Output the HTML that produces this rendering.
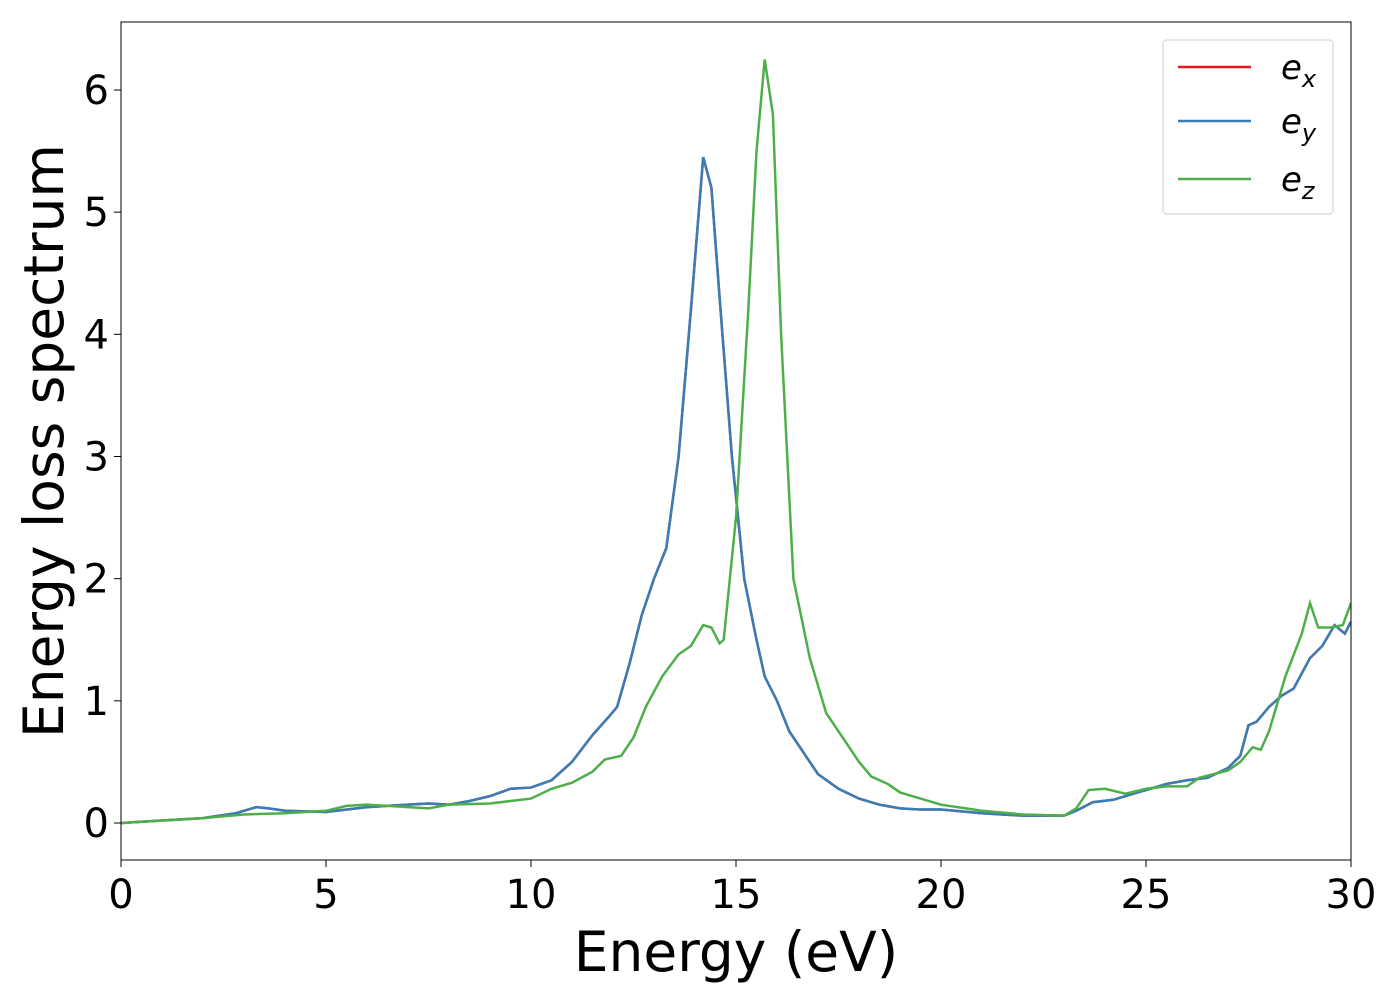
<!DOCTYPE html>
<html><head><meta charset="utf-8"><style>
body{margin:0;background:#fff;}
svg{font-family:"DejaVu Sans","Liberation Sans",sans-serif;}
</style></head><body>
<svg id="chart" width="1400" height="1000" xmlns="http://www.w3.org/2000/svg">
<rect width="1400" height="1000" fill="#fff"/>
<g id="plot"></g>
</svg>
<script>
const xTicks=[0,5,10,15,20,25,30];
const yTicks=[0,1,2,3,4,5,6];
const exX=[0,1,2,2.8,3.3,3.6,4,5,6,7,7.5,8,8.5,9,9.5,10,10.5,11,11.5,11.9,12.1,12.4,12.7,13,13.3,13.6,13.9,14.2,14.4,14.6,14.9,15.2,15.5,15.7,16,16.3,16.7,17,17.5,18,18.5,19,19.5,20,21,22,23,23.3,23.7,24.2,25,25.5,26,26.5,27,27.3,27.5,27.7,28,28.3,28.6,29,29.3,29.6,29.85,30];
const exY=[0,0.02,0.04,0.08,0.13,0.12,0.1,0.09,0.13,0.15,0.16,0.15,0.18,0.22,0.28,0.29,0.35,0.5,0.72,0.87,0.95,1.3,1.7,2.0,2.25,3.0,4.2,5.45,5.2,4.3,3.0,2.0,1.5,1.2,1.0,0.75,0.55,0.4,0.28,0.2,0.15,0.12,0.11,0.11,0.08,0.06,0.06,0.1,0.17,0.19,0.27,0.32,0.35,0.37,0.45,0.55,0.8,0.83,0.95,1.04,1.1,1.35,1.45,1.62,1.55,1.65];
const ezX=[0,2,3,4,5,5.5,6,6.5,7,7.5,8,9,9.5,10,10.5,11,11.5,11.8,12.2,12.5,12.8,13.2,13.6,13.9,14.2,14.4,14.6,14.7,15,15.3,15.5,15.7,15.9,16.1,16.4,16.8,17.2,17.6,18,18.3,18.7,19,19.5,20,21,22,23,23.3,23.6,24,24.5,25,25.5,26,26.3,27,27.3,27.6,27.8,28,28.4,28.8,29,29.2,29.5,29.8,30];
const ezY=[0,0.04,0.07,0.08,0.1,0.14,0.15,0.14,0.13,0.12,0.15,0.16,0.18,0.2,0.28,0.33,0.42,0.52,0.55,0.7,0.95,1.2,1.38,1.45,1.62,1.6,1.47,1.5,2.5,4.2,5.5,6.25,5.8,4.0,2.0,1.35,0.9,0.7,0.5,0.38,0.32,0.25,0.2,0.15,0.1,0.07,0.06,0.12,0.27,0.28,0.24,0.28,0.3,0.3,0.37,0.43,0.5,0.62,0.6,0.75,1.2,1.55,1.8,1.6,1.6,1.62,1.8];
const L=121,R=1351,T=22,B=860;
const sx=v=>L+(v-0)/30*(R-L);
const sy=v=>823-v*(823-90)/6;
const NS='http://www.w3.org/2000/svg';
const g=document.getElementById('plot');
function mk(t,a,txt){const e=document.createElementNS(NS,t);for(const k in a)e.setAttribute(k,a[k]);if(txt!==undefined)e.textContent=txt;g.appendChild(e);return e;}
const cp=mk('clipPath',{id:'cp'});const cr=document.createElementNS(NS,'rect');cr.setAttribute('x',L);cr.setAttribute('y',T);cr.setAttribute('width',R-L);cr.setAttribute('height',B-T);cp.appendChild(cr);
function line(xs,ys,col,name){const p=mk('polyline',{points:xs.map((x,i)=>sx(x)+','+sy(ys[i])).join(' '),fill:'none',stroke:col,'stroke-width':2.5,'clip-path':'url(#cp)'});

}
line(exX,exY,'#e41a1c','series-ex');
line(exX,exY,'#377eb8','series-ey');
line(ezX,ezY,'#4daf4a','series-ez');
const fr=mk('rect',{x:L,y:T,width:R-L,height:B-T,fill:'none',stroke:'#000','stroke-width':1});


xTicks.forEach(v=>{mk('line',{x1:sx(v),x2:sx(v),y1:B,y2:B+7,stroke:'#000'});
const t=mk('text',{x:sx(v),y:B+48,'text-anchor':'middle','font-size':40},String(v));

});
yTicks.forEach(v=>{mk('line',{x1:L-7,x2:L,y1:sy(v),y2:sy(v),stroke:'#000'});
const t=mk('text',{x:L-12,y:sy(v)+14,'text-anchor':'end','font-size':40},String(v));

});
const xt=mk('text',{x:736,y:971,'text-anchor':'middle','font-size':55},'Energy (eV)');


const yt=mk('text',{x:0,y:0,'text-anchor':'middle','font-size':55,transform:'translate(63,441) rotate(-90)'},'Energy loss spectrum');


const lg=mk('rect',{x:1163,y:40,width:170,height:174,rx:4,fill:'#fff','fill-opacity':0.8,stroke:'#ccc'});


[['x','#e41a1c',67],['y','#377eb8',121],['z','#4daf4a',179]].forEach(([s,c,y])=>{
mk('line',{x1:1178,x2:1251,y1:y,y2:y,stroke:c,'stroke-width':2.5});
const t=mk('text',{x:1281,y:y+12,'font-size':34,'font-style':'italic'},'e');
const ts=document.createElementNS(NS,'tspan');ts.setAttribute('font-size',24);ts.setAttribute('dy',8);ts.textContent=s;t.appendChild(ts);

});
</script>
</body></html>
